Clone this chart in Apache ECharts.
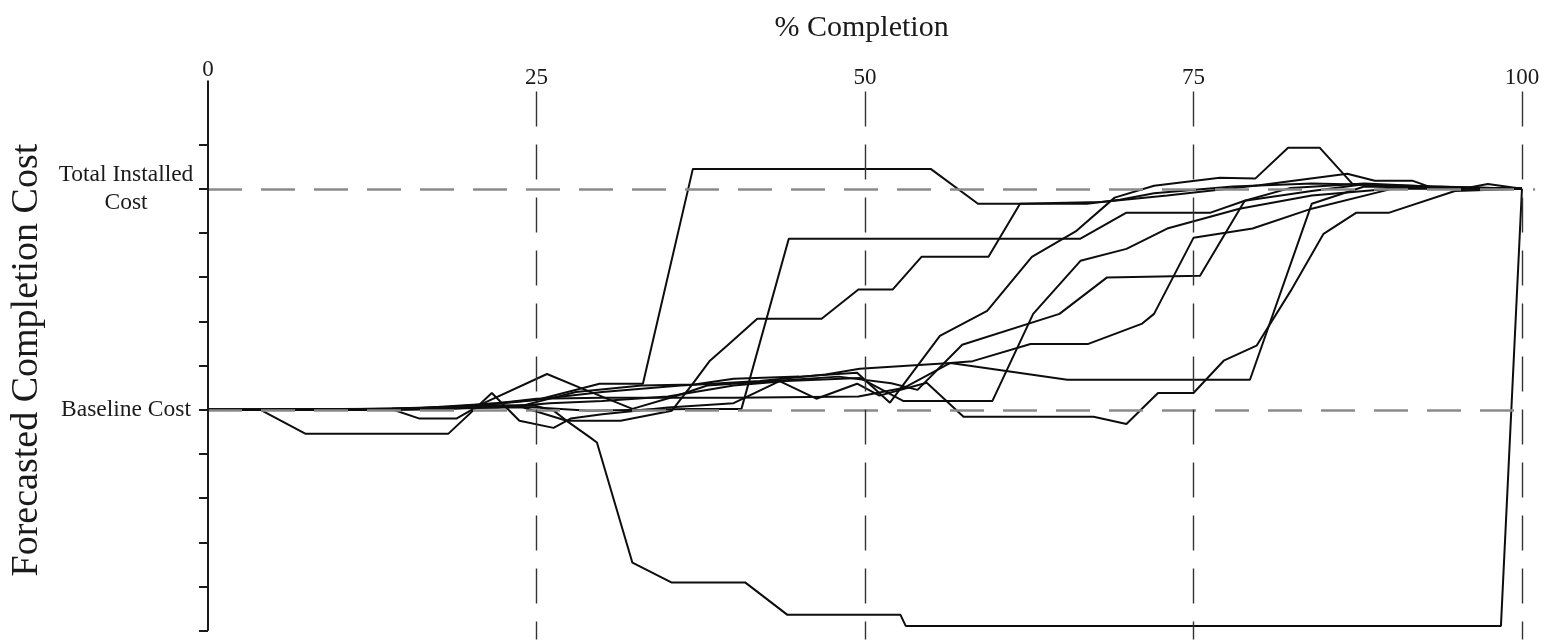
<!DOCTYPE html>
<html>
<head>
<meta charset="utf-8">
<script src="https://cdn.jsdelivr.net/npm/echarts@6/dist/echarts.min.js"></script>
<style>
  html, body { margin: 0; padding: 0; background: #ffffff; }
  #chart { width: 1549px; height: 643px; }
</style>
</head>
<body>
<div id="chart"></div>
<script>
// Axis ticks and named cost levels
const completionTicks = [0, 25, 50, 75, 100];
const costTicks = [-5, -4, -3, -2, -1, 0, 1, 2, 3, 4, 5, 6];
const costLevels = [0, 5];
const costLevelNames = ['Baseline Cost', 'Total Installed\nCost'];

// Forecasted completion cost per project: [% completion, cost units above baseline]
const project1 = [[0,0],[8,0],[14,0.03],[20,0.08],[25,0.22],[29.8,0.59],[33.1,0.59],[36.9,5.45],[55.0,5.45],[58.6,4.66],[66.9,4.66],[69.4,4.75],[72,4.9],[78,5.05],[84,5.12],[90,5.08],[100,5]];
const project2 = [[0,0],[12,0],[18,0.02],[22,0.08],[25,0.05],[29,-0.02],[33,0],[36.7,0.02],[40.6,0.02],[44.2,3.87],[66.4,3.87],[69.9,4.46],[76.3,4.46],[78.9,4.73],[84,4.95],[88,5.1],[92,5.04],[100,5]];
const project3 = [[0,0],[12,0],[20,0.05],[24,0.05],[27.3,-0.25],[31.4,-0.25],[35.3,-0.02],[36.9,0.59],[38.2,1.11],[39.5,1.45],[41.8,2.06],[46.7,2.06],[49.5,2.72],[52.1,2.72],[54.3,3.46],[59.4,3.46],[61.8,4.66],[68,4.7],[73,4.85],[80,5.08],[86.7,5.34],[88.8,5.18],[91.7,5.18],[93.2,5.02],[100,5]];
const project4 = [[0,0],[10,0.02],[18,0.03],[24,0.1],[28,0.4],[33,0.55],[37,0.57],[40,0.7],[45,0.75],[49.4,0.84],[51.9,0.16],[55.7,1.67],[59.3,2.24],[62.7,3.46],[66.1,4.05],[69.0,4.8],[72.0,5.07],[77.0,5.25],[79.7,5.23],[82.2,5.93],[84.6,5.93],[87.1,5.11],[93,5.03],[100,5]];
const project5 = [[0,0],[15,0],[22,0.05],[26,0.15],[30,0.2],[35,0.3],[40,0.55],[44,0.65],[49.6,0.72],[52.9,0.2],[59.7,0.2],[62.8,2.17],[66.4,3.37],[69.9,3.64],[73.0,4.1],[78.5,4.55],[84,4.85],[90,5.0],[100,5]];
const project6 = [[0,0],[14.1,0],[16.1,-0.2],[18.9,-0.2],[20.9,0.14],[25.8,0.81],[28.3,0.5],[32.3,0.02],[35.5,0.3],[38,0.55],[43,0.65],[48,0.75],[52,0.6],[54.0,0.45],[57.4,1.47],[64.8,2.17],[68.4,2.99],[75.5,3.03],[78.9,4.73],[82.4,5.02],[88,5.12],[93,5.05],[100,5]];
const project7 = [[0,0],[15,0.02],[22,0.15],[25,0.25],[30,0.27],[40,0.27],[49.5,0.3],[53,0.5],[56.5,1.06],[58.2,1.1],[62.6,1.49],[67.0,1.49],[71.1,1.95],[72.0,2.17],[75.0,3.89],[79.5,4.1],[84.0,4.55],[90.4,5.02],[100,5]];
const project8 = [[0,0],[10,0],[18,0.05],[24,0.2],[30,0.4],[36,0.55],[42,0.65],[47,0.8],[49.6,0.93],[56.5,1.06],[65.4,0.68],[79.3,0.68],[84.0,4.66],[88,5.05],[95.5,5.0],[97.4,5.11],[100,5]];
const project9 = [[0,0],[4.0,0],[7.4,-0.54],[18.3,-0.54],[21.6,0.38],[23.7,-0.25],[26.3,-0.41],[27.6,-0.2],[30,-0.1],[35,0.05],[40,0.15],[43.5,0.65],[46.3,0.25],[49.4,0.59],[51.1,0.32],[54.7,0.61],[57.5,-0.16],[67.4,-0.16],[69.9,-0.32],[72.3,0.38],[75.0,0.38],[77.3,1.11],[79.8,1.45],[82.4,2.69],[84.9,3.98],[87.4,4.46],[89.9,4.46],[94.9,4.95],[100,5]];
const project10 = [[0,0],[12,0],[18,0.05],[22.2,0.1],[24.9,0.09],[26.3,-0.02],[27.3,-0.25],[29.1,-0.63],[29.6,-0.74],[32.3,-3.46],[35.3,-3.91],[40.9,-3.91],[44.1,-4.64],[52.7,-4.64],[53.1,-4.89],[98.4,-4.89],[100,5]];

const projects = [project1, project2, project3, project4, project5, project6, project7, project8, project9, project10];

const FONT = '"Liberation Serif", "Times New Roman", serif';
const INK = '#1a1a1a';

const chart = echarts.init(document.getElementById('chart'), null, { renderer: 'canvas' });

const projectSeries = projects.map((d, i) => ({
  type: 'line',
  name: 'Project ' + (i + 1),
  data: d,
  showSymbol: false,
  symbol: 'none',
  silent: true,
  clip: false,
  z: 3,
  lineStyle: { color: '#0d0d0d', width: 2 }
}));

// reference levels (baseline / total installed), dashed grey
const levelLines = {
  type: 'line', data: [], silent: true, clip: false, z: 2,
  markLine: {
    symbol: 'none', silent: true, animation: false, label: { show: false },
    lineStyle: { color: '#8a8a8a', width: 2.5, type: [34, 19] },
    data: [
      [{ coord: [0, costLevels[0]] }, { coord: [100.3, costLevels[0]] }],
      [{ coord: [0, costLevels[1]] }, { coord: [101, costLevels[1]] }]
    ]
  }
};

// completion quartile guides, dashed dark
const quartileLines = {
  type: 'line', data: [], silent: true, clip: false, z: 2,
  markLine: {
    symbol: 'none', silent: true, animation: false, label: { show: false },
    lineStyle: { color: '#333333', width: 1.4, type: [35, 18] },
    data: completionTicks.slice(1).map(v => [{ coord: [v, 7.2] }, { coord: [v, -5.2] }])
  }
};

// vertical cost axis line
const costAxisLine = {
  type: 'line', data: [], silent: true, clip: false, z: 4,
  markLine: {
    symbol: 'none', silent: true, animation: false, label: { show: false },
    lineStyle: { color: INK, width: 2, type: 'solid' },
    data: [[{ coord: [0, -5] }, { coord: [0, 7.45] }]]
  }
};

chart.setOption({
  animation: false,
  backgroundColor: '#ffffff',
  grid: { left: 208, right: 13.9, top: 80.5, bottom: 3.4, containLabel: false },
  xAxis: {
    type: 'value',
    position: 'top',
    min: 0,
    max: 101,
    interval: 25,
    name: '% Completion',
    nameLocation: 'middle',
    nameGap: 37,
    nameTextStyle: { fontFamily: FONT, fontSize: 30, color: INK, padding: [0, 20, 0, 0] },
    axisLine: { show: false },
    axisTick: { show: false },
    splitLine: { show: false },
    axisLabel: {
      customValues: completionTicks,
      margin: -9,
      fontFamily: FONT,
      fontSize: 23,
      color: INK,
      formatter: v => (v === 0 ? '{z|0}' : String(v)),
      rich: { z: { fontFamily: FONT, fontSize: 23, color: INK, padding: [0, 0, 8, 0] } }
    }
  },
  yAxis: {
    type: 'value',
    min: -5.2,
    max: 7.45,
    name: 'Forecasted Completion Cost',
    nameLocation: 'middle',
    nameRotate: 90,
    nameGap: 162,
    nameTextStyle: { fontFamily: FONT, fontSize: 38, color: INK },
    axisLine: { show: false },
    splitLine: { show: false },
    axisTick: { show: true, customValues: costTicks, length: 9, lineStyle: { color: INK, width: 2 } },
    axisLabel: {
      customValues: costLevels,
      formatter: v => costLevelNames[costLevels.indexOf(v)] || '',
      align: 'center',
      margin: 82,
      fontFamily: FONT,
      fontSize: 23.5,
      lineHeight: 28,
      color: INK
    }
  },
  series: [levelLines, quartileLines, costAxisLine].concat(projectSeries)
});
</script>
</body>
</html>
